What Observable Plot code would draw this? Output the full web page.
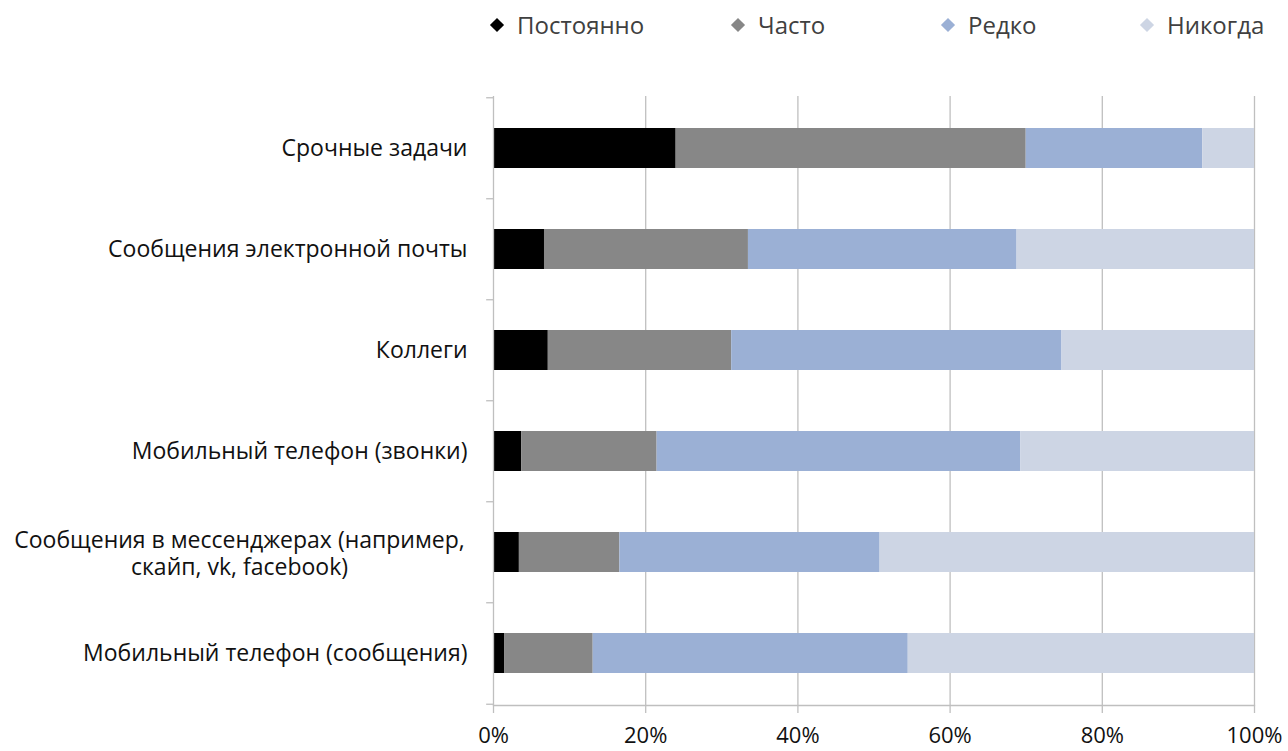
<!DOCTYPE html>
<html>
<head>
<meta charset="utf-8">
<script src="https://cdn.jsdelivr.net/npm/d3@7"></script>
<script src="https://cdn.jsdelivr.net/npm/@observablehq/plot@0.6"></script>
<style>
  html, body { margin: 0; padding: 0; background: #fff; }
  body { width: 1288px; height: 751px; overflow: hidden; font-family: "Open Sans", sans-serif; }
  #legend { position: relative; height: 50px; width: 1288px; }
  .item { position: absolute; top: 10px; display: flex; align-items: center; font-size: 24px; color: #404040; line-height: 30px; }
  .dia { width: 10px; height: 10px; transform: rotate(45deg); margin-right: 15px; margin-left: 2px; }
</style>
</head>
<body>
<div id="legend"></div>
<div id="chart"></div>
<script>
const categories = [
  "Срочные задачи",
  "Сообщения электронной почты",
  "Коллеги",
  "Мобильный телефон (звонки)",
  "Сообщения в мессенджерах (например,\nскайп, vk, facebook)",
  "Мобильный телефон (сообщения)"
];
const seriesNames = ["Постоянно", "Часто", "Редко", "Никогда"];
const seriesColors = ["#000000", "#878787", "#9bb0d5", "#cdd5e4"];
const postoyanno = [24.0, 6.7, 7.2, 3.7, 3.4, 1.5];
const chasto     = [46.0, 26.8, 24.1, 17.8, 13.2, 11.6];
const redko      = [23.2, 35.3, 43.4, 47.8, 34.2, 41.4];
const nikogda    = [6.8, 31.2, 25.3, 30.7, 49.2, 45.5];
const xTicks = [0, 20, 40, 60, 80, 100];
const legendLeft = [490, 731, 941, 1140];

const seriesValues = [postoyanno, chasto, redko, nikogda];
const table = [];
categories.forEach((c, i) => {
  seriesNames.forEach((s, j) => table.push({category: c, series: s, value: seriesValues[j][i]}));
});

// Legend
const legend = document.getElementById("legend");
seriesNames.forEach((s, j) => {
  const it = document.createElement("div");
  it.className = "item";
  it.style.left = legendLeft[j] + "px";
  const d = document.createElement("div");
  d.className = "dia";
  d.style.background = seriesColors[j];
  const t = document.createElement("span");
  t.textContent = s;
  it.appendChild(d); it.appendChild(t);
  legend.appendChild(it);
});

const height = 701, marginTop = 46, marginBottom = 46;
const step = (height - marginTop - marginBottom) / (categories.length - 0.6 + 0.6);
const longLabel = categories[4];
const gray = "#bfbfbf";

const chart = Plot.plot({
  width: 1288,
  height,
  marginLeft: 493,
  marginRight: 34,
  marginTop,
  marginBottom,
  style: {fontFamily: "Open Sans, sans-serif", fontSize: "23px", color: "#111", background: "#fff"},
  x: {domain: [0, 100]},
  y: {domain: categories, paddingInner: 0.6, paddingOuter: 0.3},
  color: {domain: seriesNames, range: seriesColors},
  marks: [
    Plot.ruleX(xTicks.filter(d => d > 0), {stroke: gray, strokeWidth: 1.3, strokeOpacity: 1}),
    Plot.barX(table, Plot.stackX({x: "value", y: "category", fill: "series", order: seriesNames})),
    Plot.ruleX([0], {stroke: gray, strokeWidth: 1.3}),
    Plot.frame({anchor: "bottom", stroke: gray, strokeWidth: 1.3}),
    Plot.ruleY(categories, {y: d => d, x1: -0.9, x2: 0, dy: -step / 2, stroke: gray, strokeWidth: 1.3}),
    Plot.ruleY([categories[categories.length - 1]], {y: d => d, x1: -0.9, x2: 0, dy: step / 2, stroke: gray, strokeWidth: 1.3}),
    Plot.axisX({ticks: xTicks, tickFormat: d => d + "%", tickSize: 8, tickPadding: 14, fontSize: 22, stroke: gray, strokeWidth: 1.3, strokeOpacity: 1, fill: "#111", label: null}),
    Plot.axisY({ticks: categories.filter(c => c !== longLabel), tickSize: 0, tickPadding: 26, fontSize: 23, fill: "#111", label: null}),
    Plot.text([longLabel], {y: d => d, x: 0, dx: -254, text: d => d, textAnchor: "middle", lineHeight: 1.17, fill: "#111", fontSize: 23})
  ]
});
document.getElementById("chart").appendChild(chart);
</script>
</body>
</html>
